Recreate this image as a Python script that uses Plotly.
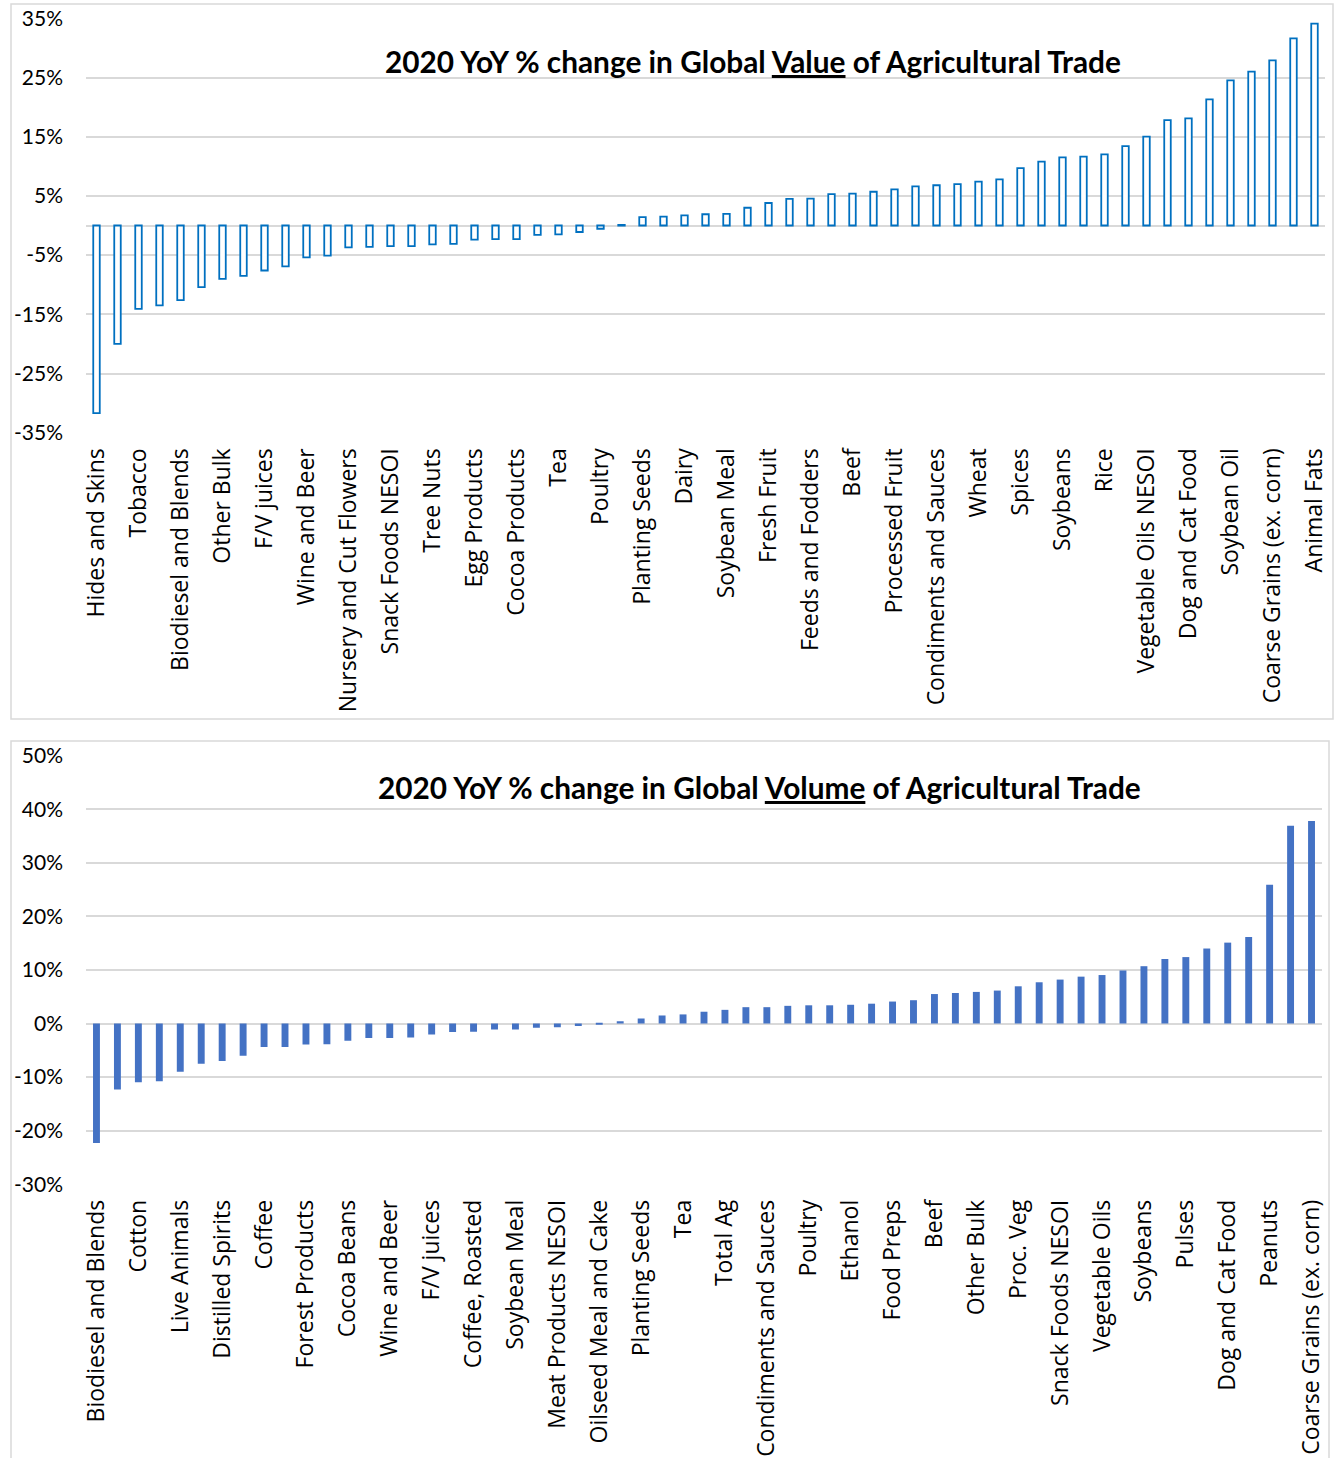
import plotly.graph_objects as go

W, H = 1337, 1458

# ---- 2020 YoY % change in global VALUE of agricultural trade ----
value_categories = [
    "Hides and Skins", "Cotton", "Tobacco", "Distilled Spirits", "Biodiesel and Blends",
    "Live Animals", "Other Bulk", "Coffee", "F/V juices", "Forest Products",
    "Wine and Beer", "Cocoa Beans", "Nursery and Cut Flowers", "Coffee, Roasted",
    "Snack Foods NESOI", "Meat Products NESOI", "Tree Nuts", "Oilseed Meal and Cake",
    "Egg Products", "Ethanol", "Cocoa Products", "Food Preps", "Tea", "Proc. Veg",
    "Poultry", "Pulses", "Planting Seeds", "Peanuts", "Dairy", "Pork", "Soybean Meal",
    "Corn", "Fresh Fruit", "Fresh Vegetables", "Feeds and Fodders",
    "Sugars and Sweeteners", "Beef", "Total Ag", "Processed Fruit", "Seafood Products",
    "Condiments and Sauces", "Chocolate", "Wheat", "Bakery Goods", "Spices",
    "Dried Fruit", "Soybeans", "Vegetable Oils", "Rice", "Hay", "Vegetable Oils NESOI",
    "Sorghum", "Dog and Cat Food", "Barley", "Soybean Oil", "Cereal Products",
    "Coarse Grains (ex. corn)", "Palm Oil", "Animal Fats",
]
value_change = [
    -31.7, -20.0, -14.1, -13.5, -12.6, -10.4, -9.0, -8.5, -7.6, -6.9,
    -5.4, -5.1, -3.7, -3.6, -3.5, -3.5, -3.2, -3.1, -2.4, -2.3,
    -2.3, -1.6, -1.5, -1.1, -0.55, 0.1, 1.4, 1.5, 1.7, 1.9,
    1.95, 3.0, 3.8, 4.5, 4.55, 5.3, 5.4, 5.7, 6.1, 6.6,
    6.8, 7.0, 7.4, 7.8, 9.7, 10.8, 11.5, 11.65, 12.0, 13.4,
    15.0, 17.8, 18.1, 21.3, 24.5, 26.0, 27.9, 31.6, 34.1,
]
value_ticks = [-35, -25, -15, -5, 5, 15, 25, 35]

# ---- 2020 YoY % change in global VOLUME of agricultural trade ----
volume_categories = [
    "Biodiesel and Blends", "Hides and Skins", "Cotton", "Tobacco", "Live Animals",
    "Nursery and Cut Flowers", "Distilled Spirits", "Tree Nuts", "Coffee", "Egg Products",
    "Forest Products", "Cocoa Products", "Cocoa Beans", "Dairy", "Wine and Beer",
    "Fresh Fruit", "F/V juices", "Feeds and Fodders", "Coffee, Roasted", "Processed Fruit",
    "Soybean Meal", "Wheat", "Meat Products NESOI", "Spices", "Oilseed Meal and Cake",
    "Rice", "Planting Seeds", "Vegetable Oils NESOI", "Tea", "Soybean Oil", "Total Ag",
    "Animal Fats", "Condiments and Sauces", "Pork", "Poultry", "Corn", "Ethanol",
    "Fresh Vegetables", "Food Preps", "Sugars and Sweeteners", "Beef", "Chocolate",
    "Other Bulk", "Seafood Products", "Proc. Veg", "Bakery Goods", "Snack Foods NESOI",
    "Dried Fruit", "Vegetable Oils", "Hay", "Soybeans", "Sorghum", "Pulses", "Barley",
    "Dog and Cat Food", "Cereal Products", "Peanuts", "Palm Oil", "Coarse Grains (ex. corn)",
]
volume_change = [
    -22.3, -12.3, -10.95, -10.8, -9.0, -7.5, -7.0, -6.0, -4.4, -4.4,
    -3.9, -3.85, -3.2, -2.7, -2.7, -2.6, -2.05, -1.6, -1.55, -1.1,
    -1.1, -0.8, -0.7, -0.45, -0.1, 0.4, 0.93, 1.5, 1.7, 2.2,
    2.55, 3.05, 3.05, 3.3, 3.4, 3.4, 3.5, 3.7, 4.1, 4.35,
    5.5, 5.7, 5.9, 6.15, 6.95, 7.7, 8.2, 8.75, 9.05, 9.9,
    10.7, 12.05, 12.4, 14.0, 15.1, 16.15, 25.9, 36.9, 37.8,
]
volume_ticks = [-30, -20, -10, 0, 10, 20, 30, 40, 50]

GRID = "#d9d9d9"
LABEL_FONT = dict(family="Open Sans", size=23, color="#000000")
PCT_FONT = dict(family="Lato", size=21, color="#000000")


def px_x(v):
    return v / W


def px_y(v):
    return 1 - v / H


def pct(ticks):
    return [f"{t}%" for t in ticks]


fig = go.Figure()

# hollow outlined bars (value chart)
fig.add_trace(go.Bar(
    x=value_categories, y=value_change, xaxis="x", yaxis="y",
    width=0.31,
    marker=dict(color="#ffffff", line=dict(color="#0070C0", width=1.8)),
    showlegend=False,
))

# solid bars (volume chart)
fig.add_trace(go.Bar(
    x=volume_categories, y=volume_change, xaxis="x2", yaxis="y2",
    width=0.33,
    marker=dict(color="#4472C4", line=dict(width=0)),
    showlegend=False,
))

common_x = dict(
    type="category", tickangle=-90, tickfont=LABEL_FONT, showgrid=False,
    showline=False, ticks="", ticklabelstandoff=10, fixedrange=True,
    automargin=False,
)
common_y = dict(
    showgrid=True, gridcolor=GRID, gridwidth=1.5, zeroline=True,
    zerolinecolor=GRID, zerolinewidth=1.5, showline=False, ticks="",
    tickfont=PCT_FONT, tickmode="array", ticklabelstandoff=22,
    fixedrange=True, automargin=False,
)

fig.update_layout(
    width=W, height=H,
    margin=dict(l=0, r=0, t=0, b=0),
    paper_bgcolor="#ffffff", plot_bgcolor="#ffffff",
    bargap=0.6,
    xaxis=dict(common_x, domain=[px_x(86), px_x(1325)], anchor="y",
               tickmode="array", tickvals=value_categories[::2]),
    yaxis=dict(common_y, domain=[px_y(432.7), px_y(18.3)], anchor="x",
               range=[-35, 35], tickvals=value_ticks, ticktext=pct(value_ticks)),
    xaxis2=dict(common_x, domain=[px_x(86), px_x(1322)], anchor="y2",
                tickmode="array", tickvals=volume_categories[::2]),
    yaxis2=dict(common_y, domain=[px_y(1184.2), px_y(755.7)], anchor="x2",
                range=[-30, 50], tickvals=volume_ticks, ticktext=pct(volume_ticks)),
)

# chart frames
fig.add_shape(type="rect", xref="paper", yref="paper",
              x0=px_x(11), x1=px_x(1333), y0=px_y(719), y1=px_y(4),
              line=dict(color=GRID, width=1.5), layer="below")
fig.add_shape(type="rect", xref="paper", yref="paper",
              x0=px_x(11), x1=px_x(1329), y0=px_y(1475), y1=px_y(741),
              line=dict(color=GRID, width=1.5), layer="below")

TITLE_FONT = dict(family="Lato", size=29.8, color="#000000")
fig.add_annotation(
    text="<b>2020 YoY % change in Global <u>Value</u> of Agricultural Trade</b>",
    xref="paper", yref="paper", x=px_x(753), y=px_y(61),
    xanchor="center", yanchor="middle", showarrow=False, font=TITLE_FONT,
)
fig.add_annotation(
    text="<b>2020 YoY % change in Global <u>Volume</u> of Agricultural Trade</b>",
    xref="paper", yref="paper", x=px_x(760), y=px_y(788),
    xanchor="center", yanchor="middle", showarrow=False, font=TITLE_FONT,
)

fig.write_html("out.html")
